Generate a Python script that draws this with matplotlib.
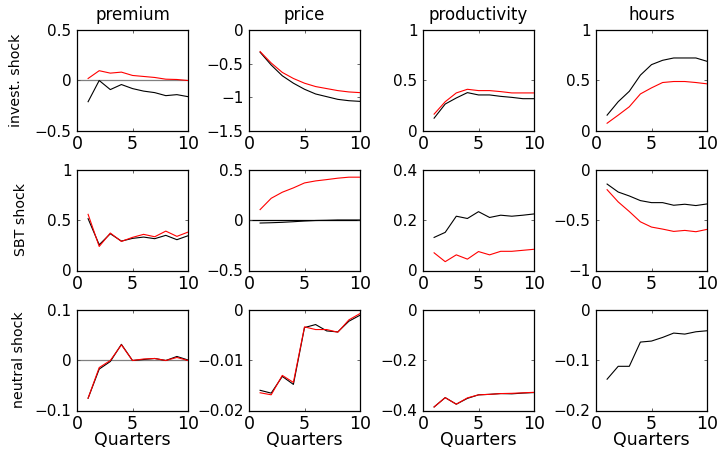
import numpy as np
import matplotlib
matplotlib.use('Agg')
import matplotlib.pyplot as plt
from matplotlib.ticker import FixedLocator, FuncFormatter

quarters = np.arange(1, 11)
variables = ['premium', 'price', 'productivity', 'hours']
shocks = ['invest. shock', 'SBT shock', 'neutral shock']

# black = first model, red = second model
inv_black = {
    'premium': [-0.21, 0.0, -0.09, -0.04, -0.08, -0.105, -0.12, -0.15, -0.14, -0.16],
    'price': [-0.33, -0.52, -0.68, -0.79, -0.88, -0.95, -0.99, -1.03, -1.05, -1.06],
    'productivity': [0.127, 0.267, 0.327, 0.38, 0.357, 0.357, 0.343, 0.333, 0.32, 0.32],
    'hours': [0.157, 0.29, 0.393, 0.553, 0.657, 0.70, 0.723, 0.723, 0.723, 0.69],
}
inv_red = {
    'premium': [0.02, 0.097, 0.073, 0.083, 0.05, 0.04, 0.03, 0.013, 0.01, 0.0],
    'price': [-0.32, -0.49, -0.63, -0.72, -0.79, -0.84, -0.87, -0.90, -0.92, -0.93],
    'productivity': [0.167, 0.29, 0.377, 0.413, 0.40, 0.40, 0.39, 0.377, 0.377, 0.377],
    'hours': [0.077, 0.157, 0.24, 0.367, 0.427, 0.48, 0.49, 0.49, 0.48, 0.467],
}
sbt_black = {
    'premium': [0.513, 0.255, 0.364, 0.291, 0.318, 0.331, 0.315, 0.348, 0.305, 0.344],
    'price': [-0.03, -0.027, -0.023, -0.017, -0.01, -0.005, -0.003, 0.0, 0.0, 0.0],
    'productivity': [0.131, 0.151, 0.215, 0.206, 0.233, 0.21, 0.219, 0.215, 0.219, 0.224],
    'hours': [-0.144, -0.223, -0.262, -0.308, -0.328, -0.328, -0.354, -0.344, -0.357, -0.341],
}
sbt_red = {
    'premium': [0.556, 0.238, 0.371, 0.288, 0.328, 0.358, 0.334, 0.39, 0.338, 0.38],
    'price': [0.103, 0.215, 0.275, 0.318, 0.367, 0.387, 0.40, 0.414, 0.424, 0.424],
    'productivity': [0.07, 0.035, 0.062, 0.045, 0.075, 0.062, 0.076, 0.076, 0.08, 0.084],
    'hours': [-0.2, -0.321, -0.416, -0.518, -0.57, -0.59, -0.613, -0.603, -0.616, -0.593],
}
neu_black = {
    'premium': [-0.0757, -0.018, -0.003, 0.031, -0.001, 0.001, 0.003, -0.001, 0.007, 0.0],
    'price': [-0.016, -0.01656, -0.01325, -0.01483, -0.00358, -0.00298, -0.00424, -0.00444, -0.00232, -0.00113],
    'productivity': [-0.386, -0.349, -0.375, -0.352, -0.338, -0.336, -0.333, -0.334, -0.331, -0.329],
    'hours': [-0.138, -0.1125, -0.1125, -0.0645, -0.0625, -0.0553, -0.0467, -0.0487, -0.0441, -0.0421],
}
neu_red = {
    'premium': [-0.0757, -0.015, -0.001, 0.03, -0.001, 0.002, 0.003, -0.001, 0.005, -0.001],
    'price': [-0.01649, -0.01689, -0.01305, -0.01444, -0.00344, -0.00397, -0.00397, -0.0045, -0.00205, -0.0008],
    'productivity': [-0.386, -0.349, -0.375, -0.35, -0.338, -0.336, -0.333, -0.332, -0.33, -0.328],
    'hours': None,
}
black_rows = [inv_black, sbt_black, neu_black]
red_rows = [inv_red, sbt_red, neu_red]

yticks = [
    [[-0.5, 0, 0.5], [-1.5, -1, -0.5, 0], [0, 0.5, 1], [0, 0.5, 1]],
    [[0, 0.5, 1], [-0.5, 0, 0.5], [0, 0.2, 0.4], [-1, -0.5, 0]],
    [[-0.1, 0, 0.1], [-0.02, -0.01, 0], [-0.4, -0.2, 0], [-0.2, -0.1, 0]],
]
# zero line colour where 0 lies inside the axis
zero_lines = {(0, 0): '0.5', (1, 1): 'k', (2, 0): '0.5'}

W, H = 720, 449
fig = plt.figure(figsize=(W / 100, H / 100), dpi=100)

col_left = [77, 249, 423, 596]
row_top = [30, 169.5, 309.5]
ax_w, ax_h = 111, 101
ylab_x = [16, 21, 19]


def fmt(v, pos):
    s = '%g' % round(v, 6)
    return s.replace('-', '\u2212')


for r in range(3):
    for c, var in enumerate(variables):
        ax = fig.add_axes([col_left[c] / W, 1 - (row_top[r] + ax_h) / H, ax_w / W, ax_h / H])
        if (r, c) in zero_lines:
            ax.axhline(0, color=zero_lines[(r, c)], lw=0.9, zorder=1)
        ax.plot(quarters, black_rows[r][var], color='k', lw=0.8, zorder=2)
        if red_rows[r][var] is not None:
            ax.plot(quarters, red_rows[r][var], color='red', lw=0.8, zorder=3)
        ax.set_xlim(0, 10)
        yt = yticks[r][c]
        ax.set_ylim(yt[0], yt[-1])
        ax.xaxis.set_major_locator(FixedLocator([0, 5, 10]))
        ax.yaxis.set_major_locator(FixedLocator(yt))
        ax.yaxis.set_major_formatter(FuncFormatter(fmt))
        ax.tick_params(direction='in', length=2.5, width=0.6, top=True, right=True,
                       color='0.3')
        ax.tick_params(axis='y', labelsize=11, pad=4)
        ax.tick_params(axis='x', labelsize=12.5, pad=3)
        for sp in ax.spines.values():
            sp.set_linewidth(0.9)
        if r == 0:
            ax.set_title(var, fontsize=12, pad=7)
        if r == 2:
            fig.text((col_left[c] + ax_w / 2) / W, 1 - 440 / H, 'Quarters',
                     fontsize=12.5, ha='center', va='center')
        if c == 0:
            fig.text(ylab_x[r] / W, 1 - (row_top[r] + ax_h / 2) / H, shocks[r],
                     fontsize=10.2, rotation=90, ha='center', va='center')

fig.savefig('out.png', dpi=100)
